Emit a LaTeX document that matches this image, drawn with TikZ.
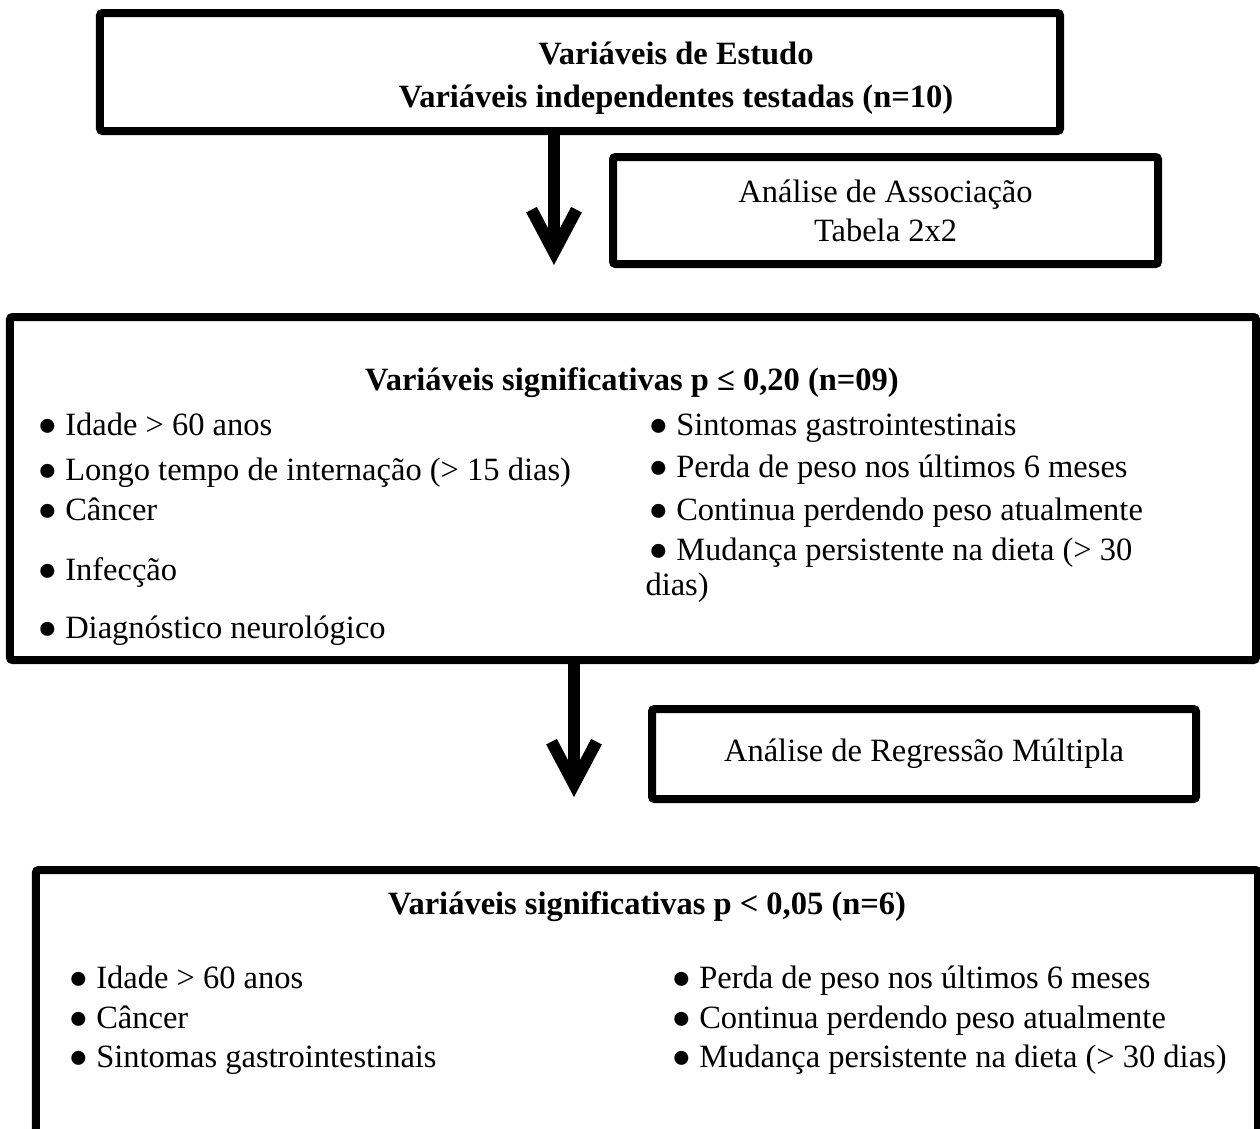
\documentclass[tikz,border=0pt]{standalone}
\usepackage{fontspec}
\setmainfont{Liberation Serif}
\usetikzlibrary{arrows.meta}

\tikzset{
  box/.style={draw, line width=3.2pt, rounded corners=1pt, inner sep=0pt},
  heading/.style={font=\fontsize{13}{17.2}\selectfont\bfseries, align=center, inner sep=0pt},
  item/.style={font=\fontsize{13}{16}\selectfont, anchor=base west, inner sep=0pt},
  flow/.style={line width=4.8pt, -{Straight Barb[length=17pt,width=18pt,line join=miter]}}
}

\begin{document}
\begin{tikzpicture}[x=0.4pt,y=-0.4pt]
\useasboundingbox (0,0) rectangle (1260,1128);
\clip (0,0) rectangle (1260,1128);

% boxes
\node[box, minimum width=384pt, minimum height=47.2pt] (study) at (580,72) {};
\node[heading] (studytxt) at (676,78) {Variáveis de Estudo\\Variáveis independentes testadas (n=10)};

\node[box, minimum width=218pt, minimum height=42.8pt, align=center,
      font=\fontsize{13}{15.6}\selectfont] (assoc) at (885.5,210.5) {Análise de Associação\\Tabela 2x2};

\node[box, minimum width=498.4pt, minimum height=137.2pt] (sig1) at (633,488.5) {};
\node[heading] (sig1txt) at (632,383) {Variáveis significativas p ≤ 0,20 (n=09)};

\node[box, minimum width=217.6pt, minimum height=36pt,
      font=\fontsize{13}{16}\selectfont] (regr) at (924,754) {Análise de Regressão Múltipla};

\node[box, minimum width=488.8pt, minimum height=116pt] (sig2) at (647,1015) {};
\node[heading] (sig2txt) at (647,907) {Variáveis significativas p < 0,05 (n=6)};

% items of the first list
\foreach \nm/\yy/\txt in {a1/435/Idade > 60 anos, a2/480/Longo tempo de internação (> 15 dias),
    a3/520/Câncer, a4/580/Infecção, a5/638/Diagnóstico neurológico}
  \node[item] (\nm) at (37,\yy) {● \txt};
\foreach \nm/\yy/\txt in {b1/435/Sintomas gastrointestinais, b2/477/Perda de peso nos últimos 6 meses,
    b3/520/Continua perdendo peso atualmente, b4/560/Mudança persistente na dieta (> 30}
  \node[item] (\nm) at (648,\yy) {● \txt};
\node[item] (b5) at (645,595) {dias)};

% items of the second list
\foreach \nm/\yy/\txt in {c1/988/Idade > 60 anos, c2/1028/Câncer, c3/1067/Sintomas gastrointestinais}
  \node[item] (\nm) at (68,\yy) {● \txt};
\foreach \nm/\yy/\txt in {d1/988/Perda de peso nos últimos 6 meses, d2/1028/Continua perdendo peso atualmente,
    d3/1067/Mudança persistente na dieta (> 30 dias)}
  \node[item] (\nm) at (671,\yy) {● \txt};

% arrows
\coordinate (tip1) at (554,265);
\draw[flow] (study.south -| tip1) -- (tip1);
\coordinate (tip2) at (574,797);
\draw[flow] (sig1.south -| tip2) -- (tip2);
\end{tikzpicture}
\end{document}
